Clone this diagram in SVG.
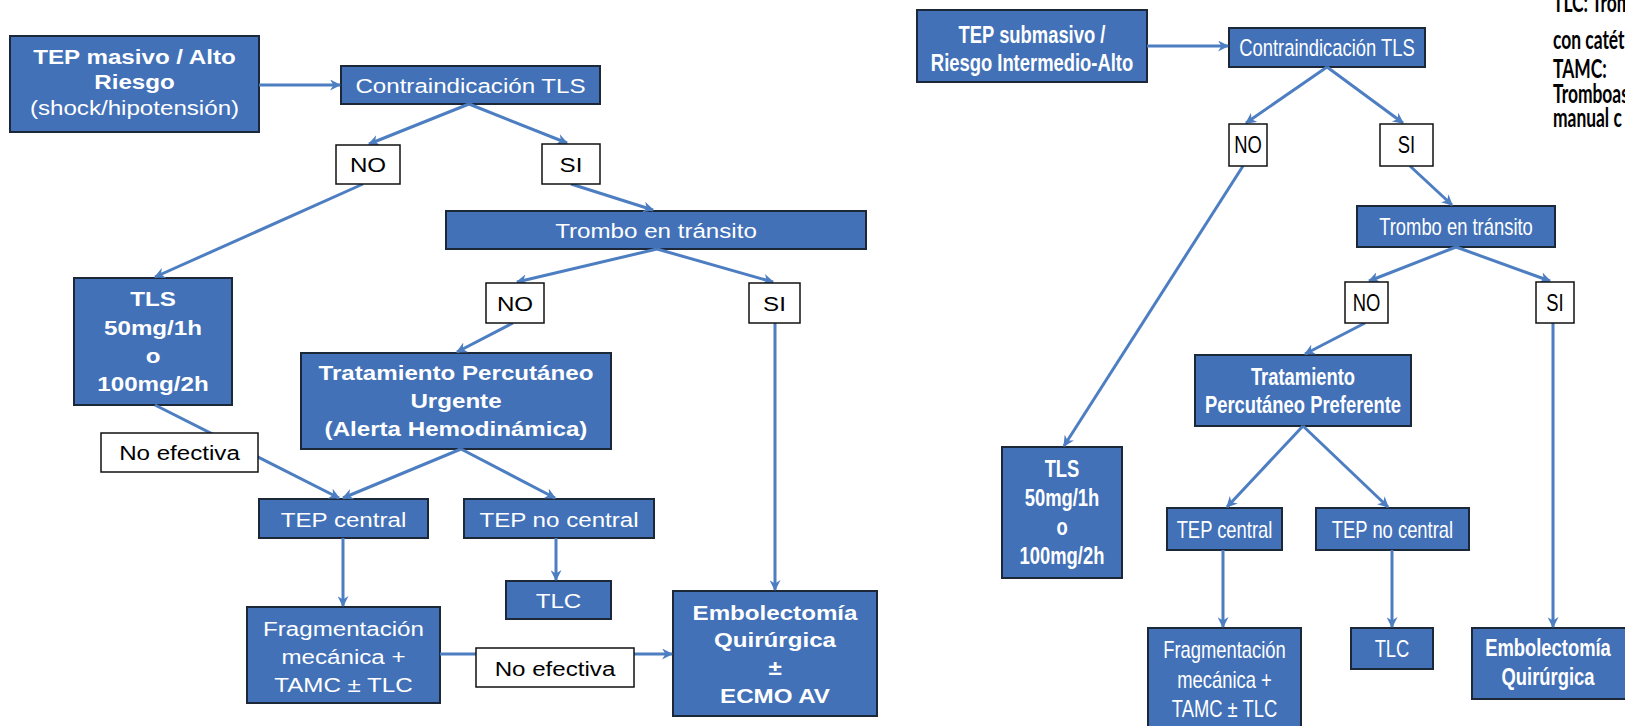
<svg xmlns="http://www.w3.org/2000/svg" width="1625" height="726" viewBox="0 0 1625 726">
<defs>
<style>
.bx{fill:#4271b8;stroke:#1c2838;stroke-width:2}
.lb{fill:#fff;stroke:#111;stroke-width:1.5}
.t{font-family:"Liberation Sans",Arial,sans-serif;fill:#fff;text-anchor:middle}
.tk{font-family:"Liberation Sans",Arial,sans-serif;fill:#000;text-anchor:middle}
.L{font-size:21px}
.R{font-size:23px}
.b{font-weight:bold}
.c{fill:none;stroke:#4d7ec2;stroke-width:3;marker-end:url(#ah)}
.n{font-family:Lato,"Open Sans",sans-serif;font-weight:bold;font-size:26px;fill:#000}
</style>
<marker id="ah" viewBox="0 0 10 10" refX="9" refY="5" markerWidth="11" markerHeight="11" markerUnits="userSpaceOnUse" orient="auto">
<path d="M0,0 L10,5 L0,10 L3,5 z" fill="#4d7ec2"/>
</marker>
</defs>
<rect width="1625" height="726" fill="#fff"/>

<!-- LEFT DIAGRAM -->
<g id="l-inicio"><rect class="bx" x="10" y="36" width="249" height="96"/>
<text class="t L b" transform="translate(134.5 64) scale(1.15 1)">TEP masivo / Alto</text>
<text class="t L b" transform="translate(134.5 89) scale(1.15 1)">Riesgo</text>
<text class="t L" transform="translate(134.5 115) scale(1.15 1)">(shock/hipotensión)</text></g>
<g id="l-contra"><rect class="bx" x="341" y="66" width="259" height="38"/>
<text class="t L" transform="translate(470.5 93) scale(1.15 1)">Contraindicación TLS</text></g>
<g id="l-trombo"><rect class="bx" x="446" y="211" width="420" height="38"/>
<text class="t L" transform="translate(656 238) scale(1.15 1)">Trombo en tránsito</text></g>
<g id="l-tls"><rect class="bx" x="74" y="278" width="158" height="127"/>
<text class="t L b" transform="translate(153 306) scale(1.15 1)">TLS</text>
<text class="t L b" transform="translate(153 335) scale(1.15 1)">50mg/1h</text>
<text class="t L b" transform="translate(153 363) scale(1.15 1)">o</text>
<text class="t L b" transform="translate(153 391) scale(1.15 1)">100mg/2h</text></g>
<g id="l-tpu"><rect class="bx" x="301" y="353" width="310" height="96"/>
<text class="t L b" transform="translate(456 380) scale(1.15 1)">Tratamiento Percutáneo</text>
<text class="t L b" transform="translate(456 408) scale(1.15 1)">Urgente</text>
<text class="t L b" transform="translate(456 436) scale(1.15 1)">(Alerta Hemodinámica)</text></g>
<g id="l-central"><rect class="bx" x="259" y="499" width="169" height="39"/>
<text class="t L" transform="translate(343.5 527) scale(1.15 1)">TEP central</text></g>
<g id="l-nocentral"><rect class="bx" x="464" y="499" width="190" height="39"/>
<text class="t L" transform="translate(559 527) scale(1.15 1)">TEP no central</text></g>
<g id="l-tlc"><rect class="bx" x="506" y="581" width="105" height="38"/>
<text class="t L" transform="translate(558.5 608) scale(1.15 1)">TLC</text></g>
<g id="l-frag"><rect class="bx" x="247" y="607" width="193" height="96"/>
<text class="t L" transform="translate(343.5 636) scale(1.15 1)">Fragmentación</text>
<text class="t L" transform="translate(343.5 664) scale(1.15 1)">mecánica +</text>
<text class="t L" transform="translate(343.5 692) scale(1.15 1)">TAMC ± TLC</text></g>
<g id="l-embol"><rect class="bx" x="673" y="591" width="204" height="125"/>
<text class="t L b" transform="translate(775 620) scale(1.15 1)">Embolectomía</text>
<text class="t L b" transform="translate(775 647) scale(1.15 1)">Quirúrgica</text>
<text class="t L b" transform="translate(775 675) scale(1.15 1)">±</text>
<text class="t L b" transform="translate(775 703) scale(1.15 1)">ECMO AV</text></g>

<!-- RIGHT DIAGRAM -->
<g id="r-inicio"><rect class="bx" x="917" y="10" width="230" height="72"/>
<text class="t R b" transform="translate(1032 42.5) scale(0.8 1)">TEP submasivo /</text>
<text class="t R b" transform="translate(1032 70.5) scale(0.8 1)">Riesgo Intermedio-Alto</text></g>
<g id="r-contra"><rect class="bx" x="1229" y="28" width="196" height="39"/>
<text class="t R" transform="translate(1327 56) scale(0.8 1)">Contraindicación TLS</text></g>
<g id="r-trombo"><rect class="bx" x="1357" y="206" width="198" height="41"/>
<text class="t R" transform="translate(1456 235) scale(0.8 1)">Trombo en tránsito</text></g>
<g id="r-tpp"><rect class="bx" x="1195" y="355" width="216" height="71"/>
<text class="t R b" transform="translate(1303 385) scale(0.8 1)">Tratamiento</text>
<text class="t R b" transform="translate(1303 413) scale(0.8 1)">Percutáneo Preferente</text></g>
<g id="r-tls"><rect class="bx" x="1002" y="447" width="120" height="131"/>
<text class="t R b" transform="translate(1062 477) scale(0.8 1)">TLS</text>
<text class="t R b" transform="translate(1062 506) scale(0.8 1)">50mg/1h</text>
<text class="t R b" transform="translate(1062 535) scale(0.8 1)">o</text>
<text class="t R b" transform="translate(1062 564) scale(0.8 1)">100mg/2h</text></g>
<g id="r-central"><rect class="bx" x="1167" y="508" width="115" height="42"/>
<text class="t R" transform="translate(1224.5 538) scale(0.8 1)">TEP central</text></g>
<g id="r-nocentral"><rect class="bx" x="1316" y="508" width="153" height="42"/>
<text class="t R" transform="translate(1392.5 538) scale(0.8 1)">TEP no central</text></g>
<g id="r-frag"><rect class="bx" x="1148" y="628" width="153" height="104"/>
<text class="t R" transform="translate(1224.5 658) scale(0.8 1)">Fragmentación</text>
<text class="t R" transform="translate(1224.5 688) scale(0.8 1)">mecánica +</text>
<text class="t R" transform="translate(1224.5 717) scale(0.8 1)">TAMC ± TLC</text></g>
<g id="r-tlc"><rect class="bx" x="1351" y="628" width="82" height="41"/>
<text class="t R" transform="translate(1392 657) scale(0.8 1)">TLC</text></g>
<g id="r-embol"><rect class="bx" x="1472" y="628" width="160" height="71"/>
<text class="t R b" transform="translate(1548 656) scale(0.8 1)">Embolectomía</text>
<text class="t R b" transform="translate(1548 685) scale(0.8 1)">Quirúrgica</text></g>

<!-- CONNECTORS -->
<g id="connectors">
<line class="c" x1="259" y1="85" x2="340" y2="85"/>
<line class="c" x1="469" y1="104" x2="369" y2="144"/>
<line class="c" x1="469" y1="104" x2="567" y2="143"/>
<line class="c" x1="363" y1="184" x2="155" y2="277"/>
<line class="c" x1="571" y1="184" x2="653" y2="210"/>
<line class="c" x1="657" y1="249" x2="517" y2="282"/>
<line class="c" x1="657" y1="249" x2="773" y2="282"/>
<line class="c" x1="513" y1="323" x2="457" y2="352"/>
<line class="c" x1="775" y1="323" x2="775" y2="590"/>
<line class="c" x1="155" y1="405" x2="339" y2="498"/>
<line class="c" x1="461" y1="449" x2="343" y2="498"/>
<line class="c" x1="461" y1="449" x2="555" y2="498"/>
<line class="c" x1="343" y1="538" x2="343" y2="606"/>
<line class="c" x1="556" y1="538" x2="556" y2="580"/>
<line class="c" x1="440" y1="654" x2="672" y2="654"/>
<line class="c" x1="1147" y1="46" x2="1228" y2="46"/>
<line class="c" x1="1327" y1="67" x2="1246" y2="123"/>
<line class="c" x1="1327" y1="67" x2="1403" y2="123"/>
<line class="c" x1="1243" y1="166" x2="1064" y2="446"/>
<line class="c" x1="1410" y1="166" x2="1452" y2="205"/>
<line class="c" x1="1456" y1="247" x2="1369" y2="281"/>
<line class="c" x1="1456" y1="247" x2="1550" y2="281"/>
<line class="c" x1="1365" y1="323" x2="1305" y2="354"/>
<line class="c" x1="1553" y1="323" x2="1553" y2="627"/>
<line class="c" x1="1303" y1="426" x2="1227" y2="507"/>
<line class="c" x1="1303" y1="426" x2="1388" y2="507"/>
<line class="c" x1="1223" y1="550" x2="1223" y2="627"/>
<line class="c" x1="1392" y1="550" x2="1392" y2="627"/>
</g>

<!-- LABEL BOXES -->
<g id="l-no1"><rect class="lb" x="336" y="145" width="64" height="39"/><text class="tk L" transform="translate(368 172) scale(1.15 1)">NO</text></g>
<g id="l-si1"><rect class="lb" x="542" y="144" width="58" height="40"/><text class="tk L" transform="translate(571 172) scale(1.15 1)">SI</text></g>
<g id="l-no2"><rect class="lb" x="486" y="283" width="58" height="40"/><text class="tk L" transform="translate(515 311) scale(1.15 1)">NO</text></g>
<g id="l-si2"><rect class="lb" x="749" y="283" width="51" height="40"/><text class="tk L" transform="translate(774.5 311) scale(1.15 1)">SI</text></g>
<g id="l-noef1"><rect class="lb" x="101" y="433" width="157" height="39"/><text class="tk L" transform="translate(179.5 460) scale(1.15 1)">No efectiva</text></g>
<g id="l-noef2"><rect class="lb" x="476" y="648" width="158" height="39"/><text class="tk L" transform="translate(555 676) scale(1.15 1)">No efectiva</text></g>
<g id="r-no1"><rect class="lb" x="1229" y="124" width="38" height="42"/><text class="tk R" transform="translate(1248 153) scale(0.8 1)">NO</text></g>
<g id="r-si1"><rect class="lb" x="1380" y="124" width="53" height="42"/><text class="tk R" transform="translate(1406.5 153) scale(0.8 1)">SI</text></g>
<g id="r-no2"><rect class="lb" x="1345" y="282" width="43" height="41"/><text class="tk R" transform="translate(1366.5 311) scale(0.8 1)">NO</text></g>
<g id="r-si2"><rect class="lb" x="1536" y="282" width="38" height="41"/><text class="tk R" transform="translate(1555 311) scale(0.8 1)">SI</text></g>

<!-- NOTE TEXT (top right, cut off) -->
<g id="nota">
<text class="n" transform="translate(1553 12) scale(0.67 1)">TLC: Trom</text>
<text class="n" transform="translate(1553 49) scale(0.67 1)">con catét</text>
<text class="n" transform="translate(1553 78) scale(0.67 1)">TAMC:</text>
<text class="n" transform="translate(1553 103) scale(0.67 1)">Tromboas</text>
<text class="n" transform="translate(1553 127) scale(0.67 1)">manual c</text>
</g>
</svg>
